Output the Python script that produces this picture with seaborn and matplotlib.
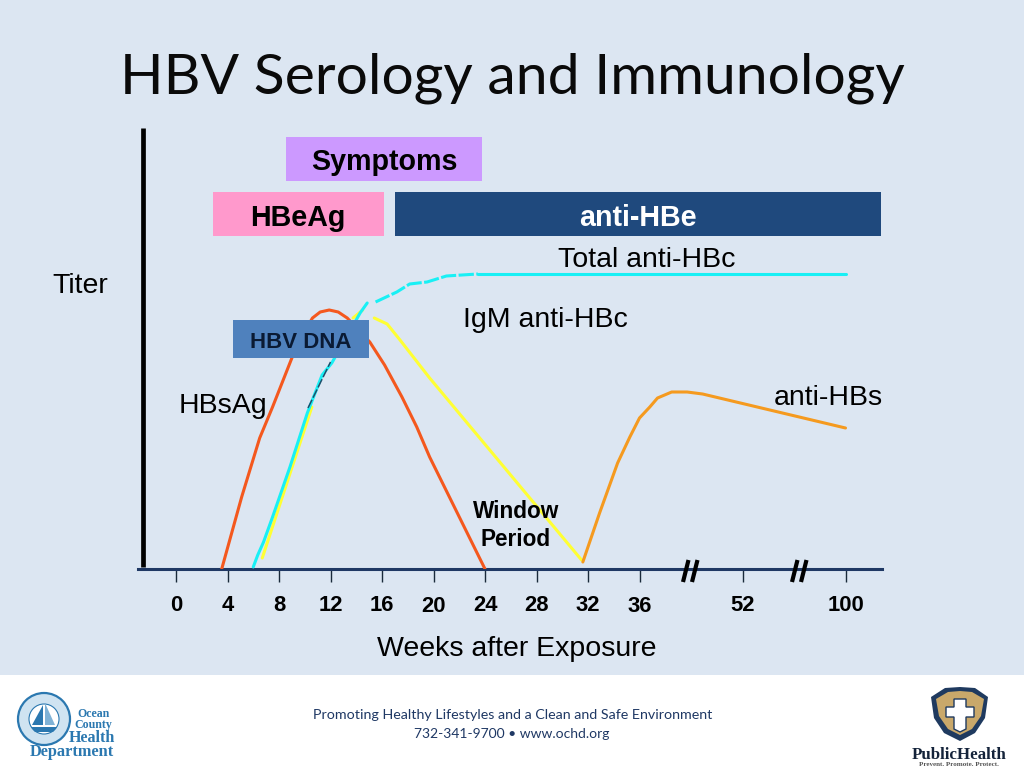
import numpy as np
import pandas as pd
import seaborn as sns
import matplotlib
matplotlib.use("Agg")
import matplotlib.pyplot as plt
from matplotlib.patches import Rectangle, Circle, Polygon
from matplotlib.lines import Line2D
from matplotlib.transforms import ScaledTranslation

# ---- data (x = axis position in weeks, compressed after 36; y = titer in arbitrary units)
tick_pos = [0, 4, 8, 12, 16, 20, 24, 28, 32, 36, 44, 52]
tick_labels = ["0", "4", "8", "12", "16", "20", "24", "28", "32", "36", "52", "100"]

hbsag_x = [3.55, 5.1, 6.5, 7.5, 9.0, 10.0, 10.6, 11.2, 11.9, 12.6, 13.3, 15.05, 16.2, 17.55, 18.7, 19.7, 24.0]
hbsag_y = [0, 72, 131, 162, 211, 238, 251, 257, 259, 257, 251, 227, 204, 172, 142, 112, 0]

hbc_rise_x = [6.0, 6.35, 6.8, 7.5, 8.85, 10.2, 11.35, 12.1, 14.3, 14.85]
hbc_rise_y = [2, 14, 27, 52, 102, 156, 194, 206, 256, 266]
hbc_dash_x = [15.5, 17.15, 18.15, 19.5, 21.0, 22.2, 23.45]
hbc_dash_y = [267, 277, 285, 287, 293, 294, 295]
hbc_flat_x = [23.45, 30, 40, 52]
hbc_flat_y = [295, 295, 295, 295]

igm_rise_x = [6.7, 10.55]
igm_rise_y = [11, 162]
igm_peak_x = [13.75, 14.5]
igm_peak_y = [251, 259]
igm_fall_x = [15.4, 16.4, 17.4, 19.7, 31.5]
igm_fall_y = [251, 245, 229, 191, 9]

dna_x = [10.25, 12.0]
dna_y = [161, 207]

hbs_x = [31.6, 32.9, 34.3, 35.25, 36.0, 36.8, 37.4, 38.5, 39.7, 40.9, 52.0]
hbs_y = [7, 56, 106, 132, 151, 162, 171, 177, 177, 175, 141]

box_names = ["Symptoms", "HBeAg", "anti-HBe", "HBV DNA"]
box_start = [8.54, 2.87, 17.0, 4.4]
box_end = [23.77, 16.16, 54.76, 15.0]
box_low = [388, 333, 333, 211]
box_high = [432, 377, 377, 249]

# ---- style
sns.set_theme(style="white")
plt.rcParams["font.family"] = ["Liberation Sans", "DejaVu Sans"]
BG = "#DCE6F2"
W, H = 1024, 768
CYAN = "#19F0F5"

fig = plt.figure(figsize=(10.24, 7.68), dpi=100, facecolor="white")


def fx(p):
    return p / W


def fy(p):
    return 1 - p / H


fig.add_artist(Rectangle((0, fy(675)), 1, 675 / H, transform=fig.transFigure, fc=BG, ec="none", zorder=-5))

L, R, T, B = 138, 882, 128, 569
ax = fig.add_axes([fx(L), fy(B), (R - L) / W, (B - T) / H])
ax.patch.set_alpha(0)
ax.set_xlim((L - 176) / 12.875, (R - 176) / 12.875)
ax.set_ylim(0, B - T)

LW = 2.2
series = [
    (igm_rise_x, igm_rise_y, "#FFFF33"),
    (igm_peak_x, igm_peak_y, "#FFFF33"),
    (igm_fall_x, igm_fall_y, "#FFFF33"),
    (hbsag_x, hbsag_y, "#F4581E"),
    (hbc_rise_x, hbc_rise_y, CYAN),
    (hbc_flat_x, hbc_flat_y, CYAN),
    (hbs_x, hbs_y, "#F59A1F"),
]
for xs, ys, c in series:
    df = pd.DataFrame({"week": xs, "titer": ys})
    sns.lineplot(data=df, x="week", y="titer", ax=ax, color=c, lw=LW, sort=False,
                 estimator=None, zorder=3)
df = pd.DataFrame({"week": hbc_dash_x, "titer": hbc_dash_y})
sns.lineplot(data=df, x="week", y="titer", ax=ax, color=CYAN, lw=LW, sort=False, estimator=None,
             zorder=3, linestyle=(0, (5, 0.8)))
df = pd.DataFrame({"week": dna_x, "titer": dna_y})
sns.lineplot(data=df, x="week", y="titer", ax=ax, color="#1F4E6B", lw=1.1, sort=False, estimator=None,
             zorder=4, linestyle=(0, (6, 1.5)))

box_cols = ["#CC99FF", "#FF99CC", "#1F497D", "#4F81BD"]
for s, e, lo, hi, c in zip(box_start, box_end, box_low, box_high, box_cols):
    ax.barh((lo + hi) / 2, e - s, height=hi - lo, left=s, color=c, edgecolor="none", zorder=5)

ax.set_xlabel("")
ax.set_ylabel("")
ax.set_yticks([])
ax.set_xticks(tick_pos)
ax.set_xticklabels(tick_labels, fontsize=15.8, fontweight="bold", color="black")
ax.tick_params(axis="x", direction="out", length=9, width=1.0, color="#1a2a3a", pad=9.5, bottom=True)
for s in ["top", "right", "left"]:
    ax.spines[s].set_visible(False)
ax.spines["bottom"].set_color("#1F3864")
ax.spines["bottom"].set_linewidth(2.2)
ax.grid(False)

for lab in ax.get_xticklabels():
    if lab.get_text() in ("20", "36"):
        lab.set_transform(lab.get_transform() + ScaledTranslation(0, -1.2 / 100, fig.dpi_scale_trans))

# vertical thick axis
fig.add_artist(Line2D([fx(142.5)] * 2, [fy(128), fy(567)], color="black", lw=3.4, solid_capstyle="butt", zorder=6))

# axis breaks
for x0 in (683, 692, 792, 801):
    fig.add_artist(Line2D([fx(x0), fx(x0 + 5.5)], [fy(582), fy(560)], color="black", lw=3.0,
                          solid_capstyle="butt", zorder=8))


def T_(px, py, s, **kw):
    kw.setdefault("ha", "center")
    kw.setdefault("va", "center")
    kw.setdefault("color", "black")
    return fig.text(fx(px), fy(py), s, zorder=10, **kw)


T_(512.5, 78, "HBV Serology and Immunology", fontsize=41, family=["Lato", "DejaVu Sans"], color="#0a0a0a")
T_(384, 162, box_names[0], fontsize=20.6, fontweight="bold")
T_(298, 218, box_names[1], fontsize=20.6, fontweight="bold")
T_(637.5, 218, box_names[2], fontsize=20.6, fontweight="bold", color="white")
T_(301, 342, box_names[3], fontsize=16, fontweight="bold", color="#0a1a33")
T_(646.5, 260, "Total anti-HBc", fontsize=20.5)
T_(545, 320, "IgM anti-HBc", fontsize=20.5)
T_(828, 398, "anti-HBs", fontsize=20.5)
T_(222.5, 406, "HBsAg", fontsize=20.5)
T_(80.5, 286, "Titer", fontsize=20.5)
T_(516, 512, "Window", fontsize=16.3, fontweight="bold")
T_(516, 540, "Period", fontsize=16.3, fontweight="bold")
T_(517, 649, "Weeks after Exposure", fontsize=20.5)

# ---- footer
T_(512.5, 715, "Promoting Healthy Lifestyles and a Clean and Safe Environment", fontsize=10.3,
   family=["Lato", "DejaVu Sans"], color="#1F3864")
T_(512, 734, "732-341-9700 \u2022 www.ochd.org", fontsize=10.0, family=["Lato", "DejaVu Sans"], color="#1F3864")

# county seal
blue = "#2B78B0"
sx, sy = 44, 719
seal = fig.add_axes([0, 0, 1, 1], zorder=1)
seal.set_xlim(0, W)
seal.set_ylim(H, 0)
seal.axis("off")
seal.patch.set_alpha(0)
seal.add_patch(Circle((sx, sy), 26, fc="#CFE3F1", ec=blue, lw=1.6))
seal.add_patch(Circle((sx, sy), 15, fc="white", ec=blue, lw=0.8))
seal.add_patch(Polygon([(43, 705), (43, 725), (32, 725)], fc=blue, ec="none"))
seal.add_patch(Polygon([(45, 703), (45, 725), (55, 725)], fc="#7FB2D6", ec="none"))
seal.add_patch(Polygon([(31, 727), (57, 727), (53, 732), (35, 732)], fc=blue, ec="none"))
for px, py, s, fs in [(93, 714, "Ocean", 8.6), (93, 725, "County", 8.6), (92, 738, "Health", 11.6), (72, 752, "Department", 11.8)]:
    T_(px, py, s, fontsize=fs, fontweight="bold", family="Liberation Serif", color=blue)

# public health shield
seal.add_patch(Polygon([(931, 697), (945, 688), (960, 687), (975, 688), (988, 697), (985, 718), (975, 733), (960, 741),
                        (944, 733), (934, 718)], fc="#1F3A5F", ec="none"))
seal.add_patch(Polygon([(936, 699), (948, 692), (960, 691), (972, 692), (984, 699), (981, 716), (972, 729), (960, 735),
                        (948, 729), (939, 716)], fc="#C9A86A", ec="none"))
seal.add_patch(Polygon([(954, 699), (966, 699), (966, 707), (974, 707), (974, 717), (966, 717), (966, 729), (960, 732),
                        (954, 729), (954, 717), (946, 717), (946, 707), (954, 707)], fc="white", ec="#1F3A5F", lw=1.0))
T_(959, 755, "PublicHealth", fontsize=12.2, fontweight="bold", family="Liberation Serif", color="#14233a")
T_(959, 764, "Prevent. Promote. Protect.", fontsize=5.0, fontweight="bold", family="Liberation Serif", color="#555555")

fig.savefig("out.png", dpi=100, facecolor="white")
